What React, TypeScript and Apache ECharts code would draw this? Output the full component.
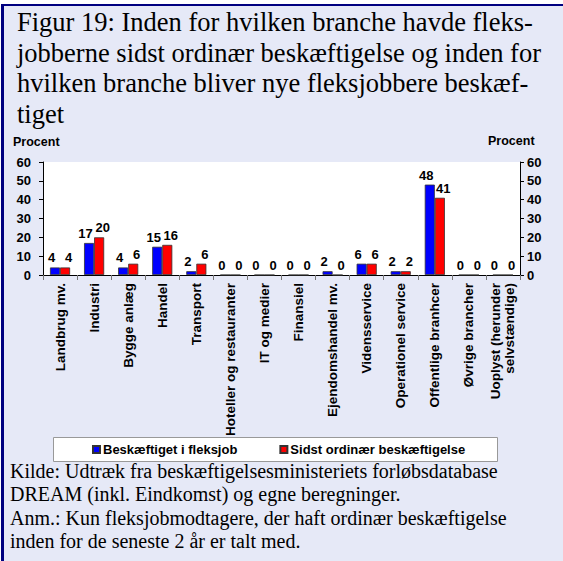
import React, { useEffect, useRef } from "react";
import * as echarts from "echarts";

const categories = [
  "Landbrug mv.",
  "Industri",
  "Bygge anlæg",
  "Handel",
  "Transport",
  "Hoteller og restauranter",
  "IT og medier",
  "Finansiel",
  "Ejendomshandel mv.",
  "Vidensservice",
  "Operationel service",
  "Offentlige branhcer",
  "Øvrige brancher",
  "Uoplyst (herunder\nselvstændige)",
];
const fleksjob = [4, 17, 4, 15, 2, 0, 0, 0, 2, 6, 2, 48, 0, 0];
const ordinaer = [4, 20, 6, 16, 6, 0, 0, 0, 0, 6, 2, 41, 0, 0];
const seriesNames = ["Beskæftiget i fleksjob", "Sidst ordinær beskæftigelse"];
const titleLines = [
  "Figur 19: Inden for hvilken branche havde fleks-",
  "jobberne sidst ordinær beskæftigelse og inden for",
  "hvilken branche bliver nye fleksjobbere beskæf-",
  "tiget",
];
const footerLines = [
  "Kilde: Udtræk fra beskæftigelsesministeriets forløbsdatabase",
  "DREAM (inkl. Eindkomst) og egne beregninger.",
  "Anm.: Kun fleksjobmodtagere, der haft ordinær beskæftigelse",
  "inden for de seneste 2 år er talt med.",
];
const axisTitle = "Procent";

const SANS = "'Liberation Sans', Arial, sans-serif";
const SERIF = "'Liberation Serif', 'Times New Roman', serif";

export default function App() {
  const ref = useRef<HTMLDivElement>(null);
  useEffect(() => {
    if (!ref.current) return;
    const chart = echarts.init(ref.current, undefined, { renderer: "svg" });
    const graphics: any[] = [];
    titleLines.forEach((t, i) => {
      graphics.push({
        type: "text",
        x: 17,
        y: 22 + i * 30.7,
        style: { text: t, font: `26.5px ${SERIF}`, fill: "#000", verticalAlign: "middle" },
      });
    });
    footerLines.forEach((t, i) => {
      graphics.push({
        type: "text",
        x: 10,
        y: 471 + i * 23.3,
        style: { text: t, font: `20px ${SERIF}`, fill: "#000", verticalAlign: "middle" },
      });
    });
    graphics.push({
      type: "text",
      x: 13,
      y: 142,
      style: { text: axisTitle, font: `bold 12.5px ${SANS}`, fill: "#000", verticalAlign: "middle" },
    });
    graphics.push({
      type: "text",
      x: 488,
      y: 141,
      style: { text: axisTitle, font: `bold 12.5px ${SANS}`, fill: "#000", verticalAlign: "middle" },
    });
    graphics.push({
      type: "rect",
      z: -1,
      shape: { x: 53.5, y: 437.5, width: 444, height: 24 },
      style: { fill: "#fff", stroke: "#999", lineWidth: 1 },
    });

    const labelStyle = (dx: number) => ({
      show: true,
      position: "top" as const,
      distance: 3,
      offset: [dx, 0],
      fontFamily: SANS,
      fontWeight: "bold" as const,
      fontSize: 13,
      color: "#000",
    });

    chart.setOption({
      animation: false,
      backgroundColor: "transparent",
      graphic: graphics,
      legend: {
        data: seriesNames,
        left: 92,
        top: 442,
        padding: 0,
        itemWidth: 7,
        itemHeight: 7,
        itemGap: 42,
        icon: "rect",
        textStyle: { fontFamily: SANS, fontWeight: "bold", fontSize: 13, lineHeight: 15, color: "#000", padding: [0, 0, 0, -2] },
      },
      grid: {
        left: 43,
        right: 43,
        top: 162,
        bottom: 286,
        show: true,
        backgroundColor: "#fff",
        borderWidth: 0,
      },
      xAxis: {
        type: "category",
        data: categories,
        axisLine: { lineStyle: { color: "#000", width: 1 } },
        axisTick: { show: true, length: 5, lineStyle: { color: "#777" } },
        axisLabel: {
          interval: 0,
          rotate: 90,
          margin: 8,
          fontFamily: SANS,
          fontWeight: "bold",
          fontSize: 13.5,
          lineHeight: 14,
          color: "#000",
        },
      },
      yAxis: [0, 1].map((i) => ({
        type: "value",
        min: 0,
        max: 60,
        interval: 10,
        position: i === 0 ? "left" : "right",
        splitLine: { show: false },
        axisLine: { show: true, lineStyle: { color: "#000", width: 1 } },
        axisTick: { show: true, length: 4, lineStyle: { color: "#000" } },
        axisLabel: {
          margin: i === 0 ? 12 : 7,
          fontFamily: SANS,
          fontWeight: "bold",
          fontSize: 13,
          color: "#000",
        },
      })),
      series: [
        {
          name: seriesNames[0],
          type: "bar",
          data: fleksjob,
          barGap: "0%",
          barCategoryGap: "41%",
          itemStyle: { color: "#0000FF", borderColor: "#333", borderWidth: 0.8 },
          label: labelStyle(-3.5),
        },
        {
          name: seriesNames[1],
          type: "bar",
          data: ordinaer,
          barGap: "0%",
          barCategoryGap: "41%",
          itemStyle: { color: "#FF0000", borderColor: "#333", borderWidth: 0.8 },
          label: labelStyle(3.5),
        },
      ],
    });
    return () => chart.dispose();
  }, []);

  return (
    <div style={{ position: "absolute", left: 0, top: 0, width: 563, height: 561, background: "#fff" }}>
      <div
        style={{
          position: "absolute",
          left: 1,
          top: 4,
          width: 562,
          height: 557,
          boxSizing: "border-box",
          background: "#E6E9F7",
          borderTop: "2px solid #000080",
          borderLeft: "3px solid #000080",
        }}
      />
      <div ref={ref} style={{ position: "absolute", left: 0, top: 0, width: 563, height: 561 }} />
    </div>
  );
}
